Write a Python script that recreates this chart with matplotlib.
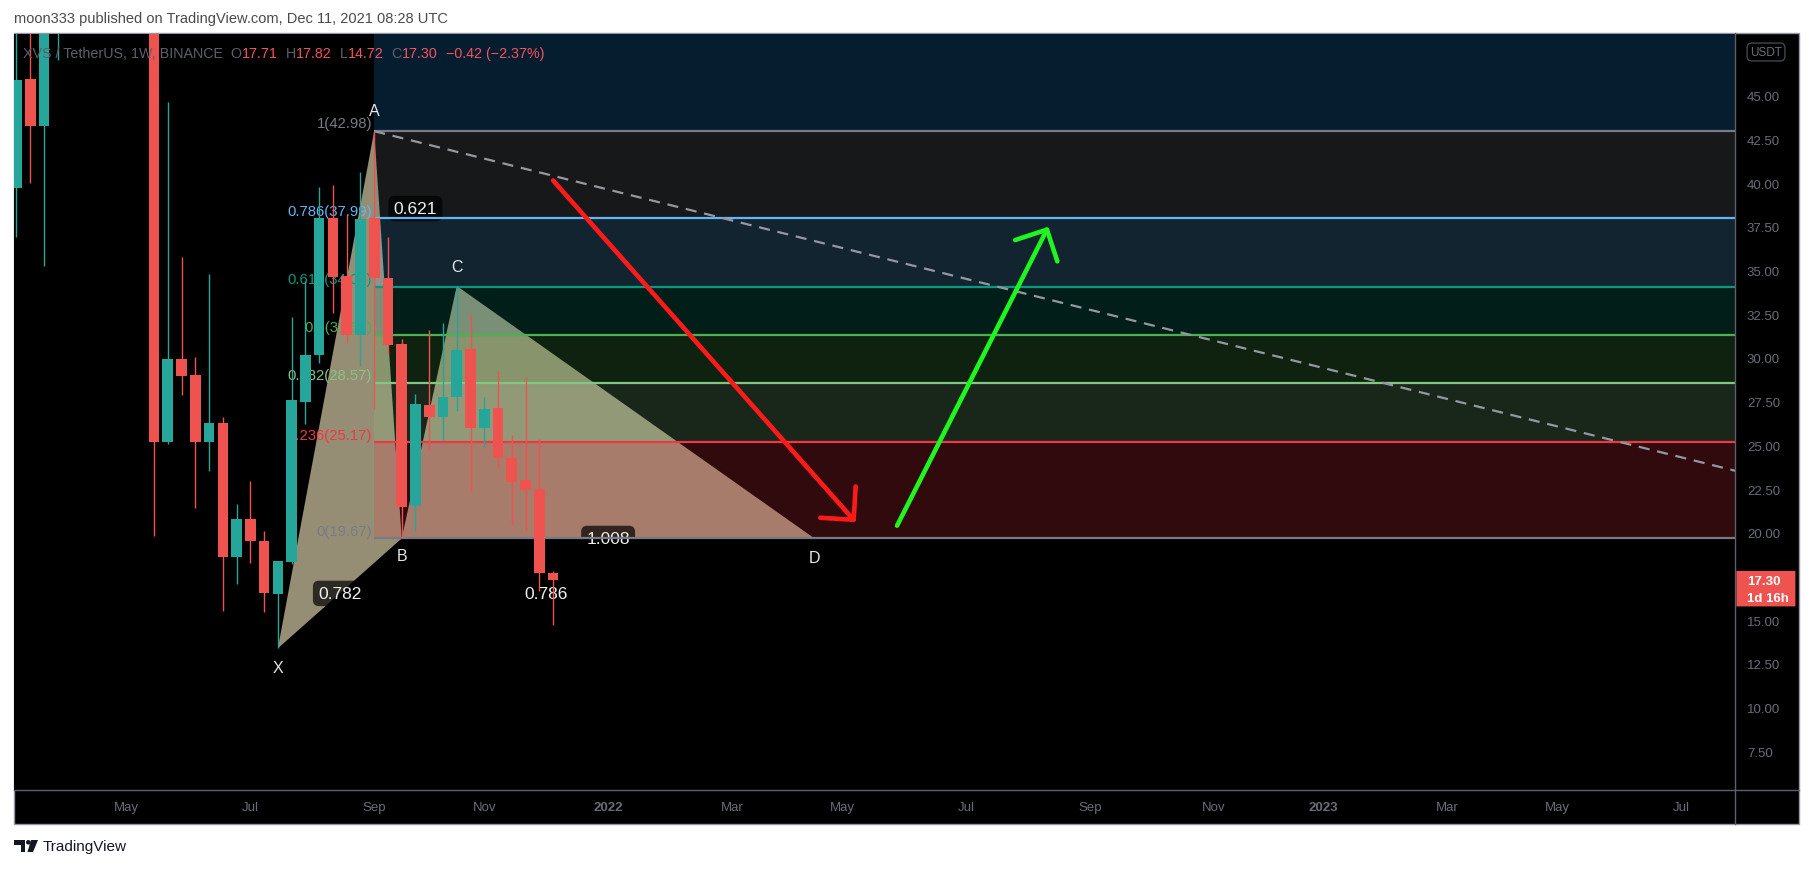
import matplotlib
matplotlib.use("Agg")
import matplotlib.pyplot as plt
import matplotlib.dates as mdates
import matplotlib.patches as mpatches
import matplotlib.transforms as mtransforms
from matplotlib.lines import Line2D
import numpy as np
import pandas as pd

plt.rcParams['font.family'] = ['Liberation Sans', 'DejaVu Sans']

# weekly XVS / USDT candles (Binance)
weeks = pd.date_range("2021-03-08", "2021-12-06", freq="7D")
opens = [39.71, 45.98, 43.30, 54.60, 58.80, 72.00, 84.00, 70.00, 92.00, 118.0,
         104.0, 25.21, 29.93, 29.00, 25.21, 26.30, 18.61, 20.76, 19.52, 16.50,
         18.30, 27.48, 30.17, 38.01, 34.68, 31.34, 37.99, 34.55, 30.80, 21.51,
         27.29, 26.62, 27.75, 30.50, 25.99, 27.12, 24.25, 22.99, 22.51, 17.71]
highs = [52.50, 51.20, 58.00, 63.50, 75.00, 88.00, 86.00, 95.00, 125.0, 146.0,
         112.0, 44.65, 35.78, 30.05, 34.80, 26.60, 21.65, 22.98, 20.12, 18.40,
         32.32, 34.42, 39.77, 39.92, 38.20, 40.63, 42.98, 36.90, 31.07, 27.92,
         31.59, 31.99, 34.12, 32.60, 27.75, 29.25, 25.59, 28.93, 25.34, 17.82]
lows = [36.90, 40.03, 35.24, 47.03, 55.00, 68.00, 60.00, 68.00, 88.00, 95.00,
        19.82, 25.10, 27.90, 21.41, 23.52, 15.49, 17.06, 18.25, 15.44, 13.38,
        18.20, 26.24, 29.74, 32.56, 30.84, 29.54, 27.06, 30.23, 19.67, 20.08,
        24.72, 25.30, 26.96, 22.37, 24.92, 23.68, 20.46, 20.08, 16.64, 14.72]
closes = [45.92, 43.30, 54.60, 58.80, 72.00, 84.00, 70.00, 92.00, 118.0, 104.0,
          25.21, 29.93, 28.97, 25.21, 26.30, 18.61, 20.76, 19.52, 16.52, 18.36,
          27.57, 30.15, 38.01, 34.65, 31.34, 37.95, 34.55, 30.75, 21.46, 27.35,
          26.62, 27.75, 30.44, 25.99, 27.06, 24.25, 22.89, 22.47, 17.72, 17.30]

# fib retracement A -> B
fib_high, fib_low = 42.98, 19.67
fib_ratios = [1.618, 1, 0.786, 0.618, 0.5, 0.382, 0.236, 0]
fib_colors = ['#2196f3', '#787b86', '#64b5f6', '#089981', '#4caf50', '#81c784', '#f23645', '#787b86']

# XABCD pattern
pattern_names = ['X', 'A', 'B', 'C', 'D']
pattern_dates = ['2021-07-19', '2021-09-06', '2021-09-20', '2021-10-18', '2022-04-18']
pattern_prices = [13.38, 42.98, 19.67, 34.12, 19.67]
ratio_pairs = [('X', 'B'), ('A', 'C'), ('B', 'D'), ('X', 'D')]
ratio_labels = ['0.782', '0.621', '1.008', '0.786']

# dashed trend line and the two arrows
trend_dates = ['2021-09-06', '2023-08-07']
trend_prices = [42.98, 23.33]
arrow_down = [('2021-12-06', 40.16), ('2022-05-09', 20.60)]
arrow_up = [('2022-05-30', 20.40), ('2022-08-15', 37.51)]

# time axis labels sit on the first weekly bar of every other month
month_ticks = pd.date_range('2021-05-01', '2023-07-01', freq='2MS')
price_ticks = np.arange(7.5, 45.01, 2.5)

W, H = 1813, 870
GREY = '#6a6d78'


def fx(x):
    return x / W


def fy(y):
    return 1 - y / H


def dn(d):
    return mdates.date2num(pd.Timestamp(d).to_pydatetime())


def first_monday(d):
    d = pd.Timestamp(d)
    return d + pd.Timedelta(days=(7 - d.weekday()) % 7)


fig = plt.figure(figsize=(W / 100, H / 100), dpi=100, facecolor='white')
fig.add_artist(mpatches.Rectangle((fx(13.5), fy(825)), (1799 - 13.5) / W, (825 - 34) / H,
                                  transform=fig.transFigure, fc='black', ec='#9598a1',
                                  lw=1, zorder=-2))

ax = fig.add_axes([fx(13.5), fy(790.7), 1721.5 / W, (790.7 - 34.5) / H])
ax.set_facecolor('black')
for s in ax.spines.values():
    s.set_visible(False)

ref = dn('2021-12-06')
ax.set_xlim(ref - 274.5, ref + 601.3)
ax.set_ylim(5.29, 48.57)

# candles
xs = mdates.date2num(weeks.to_pydatetime())
cols = ['#26a69a' if c >= o else '#ef5350' for o, c in zip(opens, closes)]
ax.vlines(xs, lows, highs, colors=cols, lw=1, zorder=5)
ax.bar(xs, [abs(c - o) for o, c in zip(opens, closes)],
       bottom=[min(o, c) for o, c in zip(opens, closes)],
       width=5.4, color=cols, lw=0, zorder=5.1)

# pattern triangles
P = {n: (dn(d), p) for n, d, p in zip(pattern_names, pattern_dates, pattern_prices)}
for tri in (('X', 'A', 'B'), ('B', 'C', 'D')):
    ax.fill([P[k][0] for k in tri], [P[k][1] for k in tri], color='#968e74', lw=0, zorder=1)

# fib levels
t0 = P['A'][0]
x_far = ref + 800
rng = fib_high - fib_low
levels = [fib_low + r * rng for r in fib_ratios]
for i, (r, lv, c) in enumerate(zip(fib_ratios, levels, fib_colors)):
    if i + 1 < len(levels):
        ax.fill_between([t0, x_far], levels[i + 1], lv, color=c, alpha=0.2, lw=0, zorder=1.5)
    if lv < 48:
        ax.hlines(lv, t0, x_far, color=c, lw=1.6, zorder=3)
        ax.annotate(f'{r:g}({lv:.2f})', xy=(t0, lv), xytext=(-1.5, 0.5),
                    textcoords='offset points', ha='right', va='bottom',
                    color=c, fontsize=10.7, zorder=3)

# ratio labels on the pattern legs
for (a, b), lab in zip(ratio_pairs, ratio_labels):
    mx = (P[a][0] + P[b][0]) / 2
    my = (P[a][1] + P[b][1]) / 2
    ax.text(mx, my, lab, ha='center', va='center', color='#f0f0f0', fontsize=12.5, zorder=2.5,
            bbox=dict(boxstyle='round,pad=0.3,rounding_size=0.35', fc=(0, 0, 0, 0.7), ec='none'))

# point names
name_off = {'X': -14, 'A': 15, 'B': -12.5, 'C': 14, 'D': -13.5}
for n in pattern_names:
    ax.annotate(n, xy=P[n], xytext=(0, name_off[n]), textcoords='offset points',
                ha='center', va='center', color='#e6e6e6', fontsize=11.5, zorder=6)

# dashed trend line
ax.plot([dn(d) for d in trend_dates], trend_prices, color='#9598a1', lw=1.6,
        ls=(0, (5, 3.5)), zorder=4)

# arrows
for (s, e), col in ((arrow_down, '#ff1a1a'), (arrow_up, '#1ff51f')):
    ax.annotate('', xy=(dn(e[0]), e[1]), xytext=(dn(s[0]), s[1]),
                arrowprops=dict(arrowstyle='->,head_length=1.7,head_width=1.7',
                                color=col, lw=3.3, shrinkA=0, shrinkB=0), zorder=6)

# axes ticks
ax.set_xticks([dn(first_monday(d)) for d in month_ticks])
ax.set_xticklabels([str(d.year) if d.month == 1 else d.strftime('%b') for d in month_ticks])
for lab, d in zip(ax.get_xticklabels(), month_ticks):
    if d.month == 1:
        lab.set_fontweight('bold')
        lab.set_color('#9598a1')
ax.yaxis.tick_right()
ax.set_yticks(price_ticks)
ax.set_yticklabels([f'{v:.2f}' for v in price_ticks])
ax.tick_params(axis='both', length=0, labelsize=9.5, labelcolor=GREY)
ax.tick_params(axis='y', pad=8.6)
ax.tick_params(axis='x', pad=8)

# separators
fig.add_artist(Line2D([fx(1735), fx(1735)], [fy(34), fy(825)], transform=fig.transFigure,
                      color='#5d606b', lw=1, zorder=5))
fig.add_artist(Line2D([fx(13.5), fx(1799)], [fy(790.7), fy(790.7)], transform=fig.transFigure,
                      color='#5d606b', lw=1, zorder=5))

# current price tag
blend = mtransforms.blended_transform_factory(ax.transAxes, ax.transData)
last = closes[-1]
ax.add_patch(mpatches.FancyBboxPatch((1.0008, last - 1.52), 59 / 1721.5, 2.03,
                                     boxstyle='round,pad=0,rounding_size=0.002',
                                     transform=blend, fc='#ef5350', ec='none',
                                     clip_on=False, zorder=10))
ax.text(1.0 + 12 / 1721.5, last - 0.05, f'{last:.2f}', transform=blend, color='white',
        fontsize=9.5, fontweight='bold', va='center', ha='left', zorder=11)
ax.text(1.0 + 12 / 1721.5, last - 1.02, '1d 16h', transform=blend, color='white',
        fontsize=9.5, fontweight='bold', va='center', ha='left', zorder=11)

fig.text(fx(1766), fy(53), 'USDT', color=GREY, fontsize=8.5, ha='center', va='center',
         bbox=dict(boxstyle='round,pad=0.25,rounding_size=0.4', fc='black', ec='#434651'))

# legend line
RED = '#f7525f'
chg = closes[-1] - closes[-2]
pct = chg / closes[-2] * 100
segs = [('XVS / TetherUS, 1W, BINANCE', '#5d606b'),
        ('  O', '#5d606b'), (f'{opens[-1]:.2f}', RED),
        ('  H', '#5d606b'), (f'{highs[-1]:.2f}', RED),
        ('  L', '#5d606b'), (f'{lows[-1]:.2f}', RED),
        ('  C', '#5d606b'), (f'{closes[-1]:.2f}', RED),
        (f'  {chg:.2f} ({pct:.2f}%)'.replace('-', '\u2212'), RED)]
t = fig.text(fx(23), fy(54), segs[0][0], color=segs[0][1], fontsize=10.3, va='center',
             zorder=20)
for txt, col in segs[1:]:
    t = ax.annotate(txt, xy=(1, 0), xycoords=t, va='bottom', ha='left', color=col,
                    fontsize=10.3, zorder=20, annotation_clip=False)

# header and footer
fig.text(fx(14), fy(18.5), 'moon333 published on TradingView.com, Dec 11, 2021 08:28 UTC',
         color='#4a4a4a', fontsize=10.5, va='center')
logo = '#131722'
fig.add_artist(mpatches.Polygon([(fx(14), fy(841)), (fx(25), fy(841)), (fx(25), fy(853)),
                                 (fx(20.5), fy(853)), (fx(20.5), fy(845.5)), (fx(14), fy(845.5))],
                                closed=True, transform=fig.transFigure, fc=logo, ec='none'))
fig.add_artist(mpatches.Ellipse((fx(28.3), fy(843.3)), 4.6 / W, 4.6 / H,
                                transform=fig.transFigure, fc=logo, ec='none'))
fig.add_artist(mpatches.Polygon([(fx(31), fy(841)), (fx(38), fy(841)), (fx(33), fy(853)),
                                 (fx(27.5), fy(853))],
                                closed=True, transform=fig.transFigure, fc=logo, ec='none'))
fig.text(fx(43), fy(847), 'TradingView', color=logo, fontsize=11, va='center')

fig.savefig('out.png', dpi=100, facecolor='white')
